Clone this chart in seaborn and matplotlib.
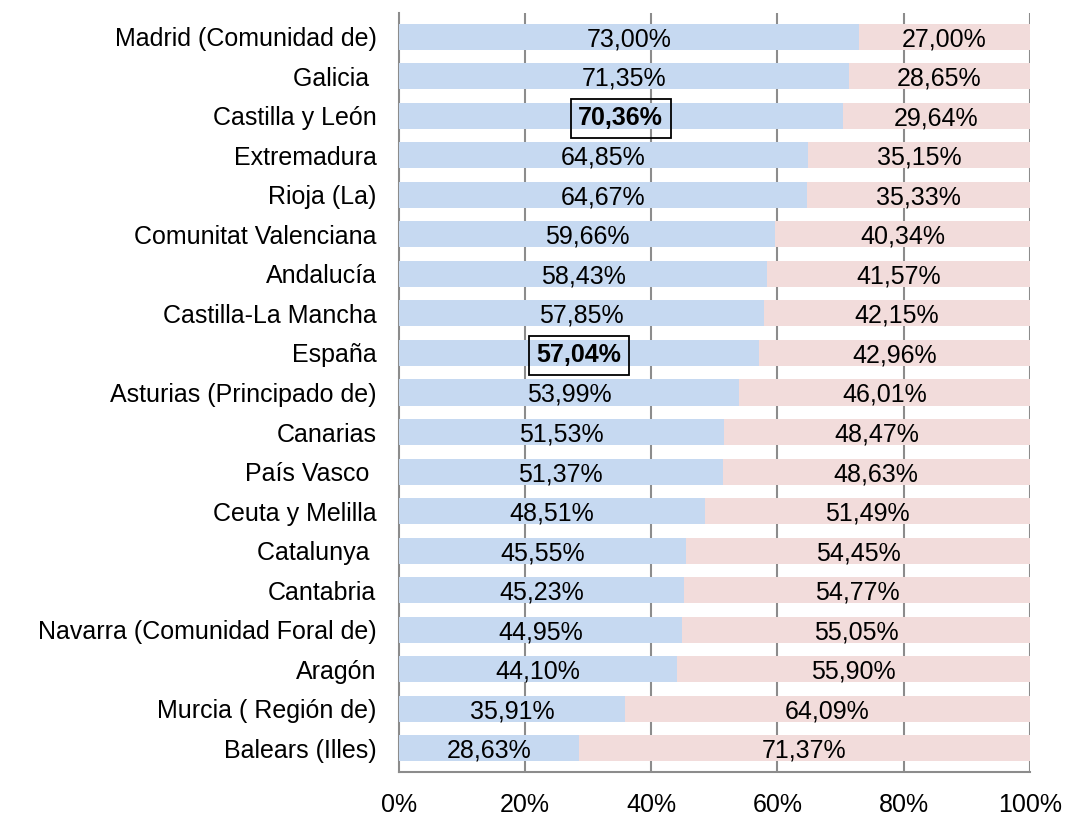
import numpy as np
import matplotlib
matplotlib.use("Agg")
import matplotlib.pyplot as plt
import seaborn as sns
import pandas as pd

regions = ["Madrid (Comunidad de)", "Galicia ", "Castilla y León", "Extremadura",
           "Rioja (La)", "Comunitat Valenciana", "Andalucía", "Castilla-La Mancha",
           "España", "Asturias (Principado de)", "Canarias", "País Vasco ",
           "Ceuta y Melilla", "Catalunya ", "Cantabria", "Navarra (Comunidad Foral de)",
           "Aragón", "Murcia ( Región de)", "Balears (Illes)"]
blue_vals = [73.00, 71.35, 70.36, 64.85, 64.67, 59.66, 58.43, 57.85, 57.04, 53.99,
             51.53, 51.37, 48.51, 45.55, 45.23, 44.95, 44.10, 35.91, 28.63]
pink_vals = [27.00, 28.65, 29.64, 35.15, 35.33, 40.34, 41.57, 42.15, 42.96, 46.01,
             48.47, 48.63, 51.49, 54.45, 54.77, 55.05, 55.90, 64.09, 71.37]
highlight = ["Castilla y León", "España"]
xticks = [0, 20, 40, 60, 80, 100]

df = pd.DataFrame({"region": regions, "blue": blue_vals, "pink": pink_vals})
df["total"] = df["blue"] + df["pink"]

sns.set_style("white")
plt.rcParams['font.family'] = ['Liberation Sans', 'DejaVu Sans']
plt.rcParams['text.color'] = 'black'
plt.rcParams['xtick.color'] = 'black'
plt.rcParams['ytick.color'] = 'black'
fs = 18

fig = plt.figure(figsize=(10.66, 8.16), dpi=100)
ax = fig.add_axes([0.374, 0.054, 0.592, 0.930])

for x in xticks[1:]:
    ax.axvline(x, color="#8c8c8c", lw=1.5, zorder=0)

sns.barplot(data=df, y="region", x="total", color="#F2DCDB", width=0.66,
            saturation=1, ax=ax, zorder=2, orient="h", linewidth=0)
sns.barplot(data=df, y="region", x="blue", color="#C6D9F1", width=0.66,
            saturation=1, ax=ax, zorder=3, orient="h", linewidth=0)

for i, row in df.iterrows():
    b, p = row["blue"], row["pink"]
    btxt = f"{b:.2f}%".replace(".", ",")
    ptxt = f"{p:.2f}%".replace(".", ",")
    if row["region"] in highlight:
        ax.text(b / 2, i, btxt, ha="center", va="center_baseline", fontsize=fs,
                fontweight="bold", zorder=5,
                bbox=dict(boxstyle="square,pad=0.3", fc="none", ec="black", lw=1.3))
    else:
        ax.text(b / 2, i, btxt, ha="center", va="center_baseline", fontsize=fs, zorder=5)
    ax.text(b + p / 2, i, ptxt, ha="center", va="center_baseline", fontsize=fs, zorder=5)

ax.set_xlim(0, 100)
ax.set_ylim(len(regions) - 0.4, -0.6)
ax.set_xticks(xticks)
ax.set_xticklabels([f"{x}%" for x in xticks], fontsize=fs)
ax.tick_params(axis="x", length=0, pad=15)
ax.tick_params(axis="y", length=0, pad=16, labelsize=fs)
ax.set_xlabel("")
ax.set_ylabel("")
for s in ["top", "right"]:
    ax.spines[s].set_visible(False)
for s in ["left", "bottom"]:
    ax.spines[s].set_color("#8c8c8c")
    ax.spines[s].set_linewidth(1.5)

fig.savefig("out.png", dpi=100)
